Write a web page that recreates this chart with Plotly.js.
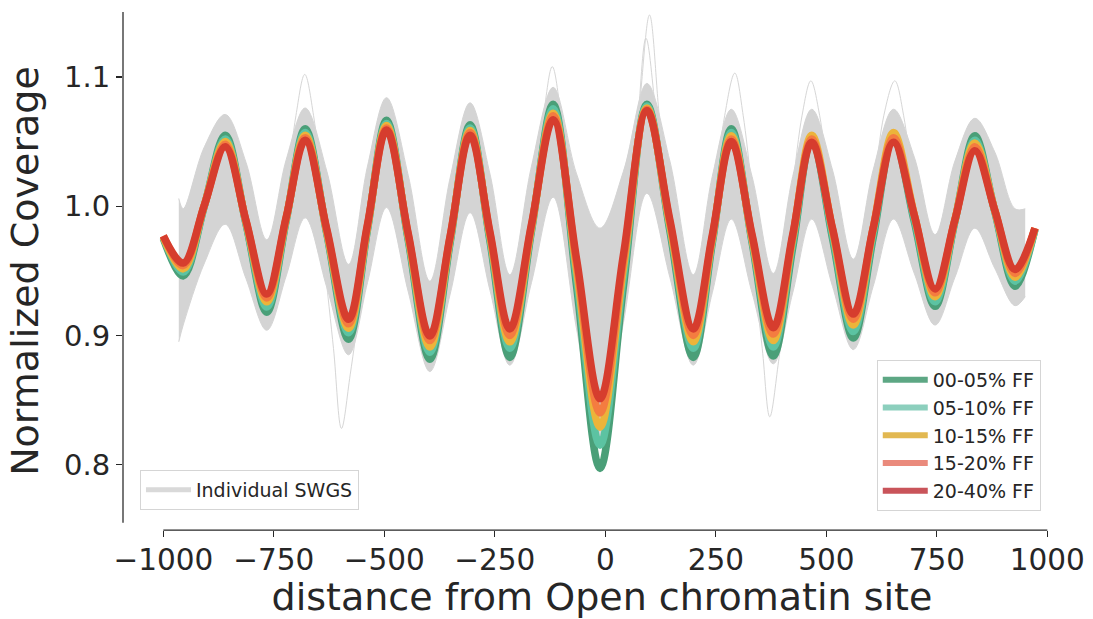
<!DOCTYPE html>
<html>
<head>
<meta charset="utf-8">
<script src="https://cdn.plot.ly/plotly-3.0.1.min.js"></script>
<style>html,body{margin:0;padding:0;background:#fff;}#chart{width:1093px;height:619px;}</style>
</head>
<body>
<div id="chart"></div>
<script>
// Shared x positions (distance from open chromatin site)
const xPos = [-1000,-955,-907,-860,-813,-766,-722,-679,-630,-581,-538,-495,-446,-397,-351,-306,-261,-216,-167,-118,-65,-12,41,94,146,199,242,285,332,380,424,467,514,561,606,652,699,746,791,836,881,927,972];

const ff00_05 = [0.975,0.946,1.0005,1.055,0.9865,0.918,0.989,1.060,0.9785,0.897,0.982,1.0665,0.974,0.8815,0.972,1.063,0.973,0.883,0.981,1.079,0.938,0.797,0.938,1.079,0.981,0.883,0.9715,1.060,0.972,0.884,0.968,1.052,0.975,0.898,0.9755,1.053,0.988,0.9225,0.9885,1.0545,0.996,0.938,0.982];
const ff05_10 = [0.976,0.949,1.0005,1.052,0.987,0.922,0.9895,1.057,0.9795,0.902,0.983,1.064,0.9755,0.887,0.974,1.0605,0.975,0.890,0.983,1.0755,0.945,0.815,0.946,1.0775,0.984,0.890,0.9735,1.057,0.974,0.891,0.972,1.053,0.978,0.903,0.979,1.055,0.9905,0.926,0.9885,1.051,0.9965,0.942,0.982];
const ff10_15 = [0.976,0.9515,1.001,1.050,0.988,0.926,0.9905,1.055,0.980,0.9055,0.984,1.0625,0.977,0.891,0.975,1.0585,0.977,0.895,0.9835,1.072,0.9505,0.829,0.9525,1.076,0.9855,0.895,0.975,1.0545,0.975,0.896,0.9755,1.055,0.9815,0.908,0.9825,1.057,0.9935,0.930,0.9895,1.049,0.997,0.945,0.983];
const ff15_20 = [0.977,0.954,1.001,1.048,0.9885,0.929,0.991,1.053,0.981,0.909,0.985,1.0605,0.978,0.896,0.9765,1.057,0.9785,0.900,0.985,1.070,0.955,0.840,0.9575,1.075,0.9875,0.900,0.976,1.052,0.9765,0.901,0.9765,1.052,0.982,0.9125,0.983,1.053,0.993,0.933,0.9895,1.046,0.997,0.948,0.983];
const ff20_40 = [0.977,0.956,1.001,1.046,0.989,0.932,0.9915,1.051,0.982,0.9125,0.986,1.059,0.979,0.8995,0.977,1.055,0.980,0.905,0.986,1.067,0.959,0.851,0.9625,1.074,0.9895,0.905,0.9775,1.050,0.978,0.906,0.978,1.0495,0.983,0.9165,0.983,1.0495,0.993,0.936,0.9895,1.043,0.997,0.951,0.983];

// Envelope of the individual SWGS samples (grey band)
const swgsX = [-965,-955,-907,-860,-813,-766,-722,-679,-630,-581,-538,-495,-446,-397,-351,-306,-261,-216,-167,-118,-65,-12,41,94,146,199,242,285,332,380,424,467,514,561,606,652,699,746,791,836,881,927,950];
const swgsUpper = [1.006,0.998,1.046,1.071,1.034,0.974,1.036,1.076,1.027,0.955,1.031,1.084,1.024,0.942,1.022,1.080,1.025,0.947,1.031,1.092,1.025,0.983,1.027,1.095,1.035,0.947,1.023,1.075,1.023,0.948,1.023,1.075,1.028,0.959,1.028,1.075,1.038,0.978,1.035,1.068,1.042,0.998,0.998];
const swgsLower = [0.895,0.908,0.956,0.986,0.944,0.904,0.946,0.991,0.937,0.885,0.941,0.999,0.934,0.872,0.932,0.995,0.935,0.877,0.941,1.007,0.905,0.815,0.910,1.010,0.945,0.877,0.933,0.990,0.933,0.878,0.933,0.990,0.938,0.889,0.938,0.990,0.948,0.908,0.945,0.983,0.952,0.923,0.930];

// A few individual samples that stray outside the band
const outA_x = [40,75,100,122,150];       const outA_y = [0.97,1.07,1.148,1.07,0.975];
const outA2_x = [45,72,92,115,145];       const outA2_y = [0.97,1.06,1.13,1.07,0.98];
const outB_x = [-170,-140,-120,-100,-70]; const outB_y = [0.99,1.07,1.108,1.07,0.98];
const outC_x = [-725,-700,-680,-660,-635]; const outC_y = [1.0,1.07,1.102,1.07,0.99];
const outD_x = [-640,-615,-597,-577,-545]; const outD_y = [0.97,0.89,0.828,0.87,0.95];
const outE_x = [330,355,372,392,420];     const outE_y = [0.97,0.89,0.837,0.88,0.96];
const outF_x = [245,270,293,312,335];     const outF_y = [1.0,1.07,1.103,1.07,1.0];
const outG_x = [420,445,465,485,510];     const outG_y = [1.0,1.07,1.097,1.07,1.0];
const outH_x = [605,630,655,675,700];     const outH_y = [1.0,1.07,1.097,1.07,1.0];

const seriesNames = ['00-05% FF','05-10% FF','10-15% FF','15-20% FF','20-40% FF'];
const seriesData = [ff00_05, ff05_10, ff10_15, ff15_20, ff20_40];
const lineColors = ['#4a9f78','#5cc3a2','#ecb43a','#f47c40','#d63d2e'];
const legendColors = ['#5da784','#8ccfbd','#e2b851','#ea8a7c','#c9545a'];

const xTicks = [-1000,-750,-500,-250,0,250,500,750,1000];
const yTicks = [0.8,0.9,1.0,1.1];

const xRange = [-1091.2, 1076.2];
const yRange = [0.7494, 1.1503];

const traces = [];
const grey = '#d4d4d4';
traces.push({x: swgsX, y: swgsLower, mode:'lines', line:{color:grey, width:1, shape:'spline', smoothing:1}, hoverinfo:'skip', showlegend:false});
traces.push({x: swgsX, y: swgsUpper, mode:'lines', fill:'tonexty', fillcolor:grey, line:{color:grey, width:1, shape:'spline', smoothing:1}, hoverinfo:'skip', showlegend:false});
[[outA_x,outA_y],[outA2_x,outA2_y],[outB_x,outB_y],[outC_x,outC_y],[outD_x,outD_y],[outE_x,outE_y],[outF_x,outF_y],[outG_x,outG_y],[outH_x,outH_y]].forEach(function(o){
  traces.push({x:o[0], y:o[1], mode:'lines', line:{color:'#d6d6d6', width:1, shape:'spline'}, hoverinfo:'skip', showlegend:false});
});
seriesData.forEach(function(s, i){
  traces.push({x: xPos, y: s, mode:'lines', name: seriesNames[i], line:{color: lineColors[i], width: 7.5, shape:'spline', smoothing:1}, showlegend:false});
});
// legend entries
traces.push({x:[null], y:[null], mode:'lines', name:'Individual SWGS', line:{color:'#d9d9d9', width:5}, legend:'legend', showlegend:true});
seriesNames.forEach(function(n, i){
  traces.push({x:[null], y:[null], mode:'lines', name:n, legendgroup:'g'+i, line:{color: legendColors[i], width:6}, legend:'legend2', showlegend:true});
});

function px(v){ return (v - xRange[0])/(xRange[1]-xRange[0]); }
function py(v){ return (v - yRange[0])/(yRange[1]-yRange[0]); }

const axisColor = '#262626';
const layout = {
  width:1093, height:619,
  margin:{l:123, r:12, t:12, b:89},
  paper_bgcolor:'#ffffff', plot_bgcolor:'#ffffff',
  font:{family:'DejaVu Sans', color:axisColor},
  xaxis:{range:xRange, tickvals:xTicks, showgrid:false, zeroline:false, showline:false,
         ticks:'outside', ticklen:6, tickwidth:1.25, tickcolor:axisColor, ticklabelstandoff:-2,
         tickfont:{size:29.5, family:'DejaVu Sans', color:axisColor},
         title:{text:'distance from Open chromatin site', font:{size:38, family:'DejaVu Sans', color:axisColor}, standoff:14}},
  yaxis:{range:yRange, tickvals:yTicks, tickformat:'.1f', showgrid:false, zeroline:false, showline:false,
         ticks:'outside', ticklen:6, tickwidth:1.25, tickcolor:axisColor,
         tickfont:{size:29, family:'DejaVu Sans', color:axisColor},
         title:{text:'Normalized Coverage', font:{size:38, family:'DejaVu Sans', color:axisColor}, standoff:13}},
  shapes:[
    {type:'line', xref:'paper', yref:'paper', x0:0, x1:0, y0:py(0.755), y1:1, line:{color:axisColor, width:1.25}, layer:'above'},
    {type:'line', xref:'paper', yref:'paper', x0:px(-1000), x1:px(1000), y0:0, y1:0, line:{color:axisColor, width:1.25}, layer:'above'}
  ],
  legend:{x:0.0177, y:0.0386, xanchor:'left', yanchor:'bottom', bgcolor:'rgba(255,255,255,0.8)', bordercolor:'#d5d5d5', borderwidth:1,
          itemwidth:45, font:{size:19, family:'DejaVu Sans', color:axisColor}},
  legend2:{x:0.958, y:0.0367, xanchor:'right', yanchor:'bottom', bgcolor:'rgba(255,255,255,0.8)', bordercolor:'#d5d5d5', borderwidth:1,
          itemwidth:45, font:{size:19, family:'DejaVu Sans', color:axisColor}, traceorder:'grouped', tracegroupgap:0},
  showlegend:true
};

Plotly.newPlot('chart', traces, layout, {displayModeBar:false, staticPlot:true});
</script>
</body>
</html>
